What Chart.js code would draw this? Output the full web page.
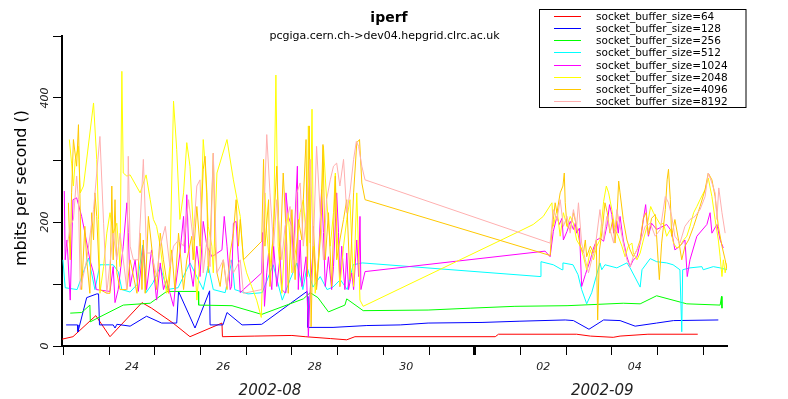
<!DOCTYPE html>
<html><head><meta charset="utf-8">
<script src="https://cdn.jsdelivr.net/npm/chart.js@4/dist/chart.umd.min.js"></script>
<style>html,body{margin:0;padding:0;background:#fff;}#wrap{width:788px;height:399px;}</style>
</head><body><div id="wrap"><canvas id="c" width="788" height="399"></canvas></div>
<script>
// x values: fractional day counted from 2002-08-01 (Sep 1 = 32)
const seriesLabels = ['socket_buffer_size=64','socket_buffer_size=128','socket_buffer_size=256','socket_buffer_size=512','socket_buffer_size=1024','socket_buffer_size=2048','socket_buffer_size=4096','socket_buffer_size=8192'];
const seriesColors = ['#ff0000','#0000ff','#00ff00','#00ffff','#ff00ff','#ffff00','#ffc800','#ffafaf'];

const t64 = [22.97,23.21,23.71,24.02,24.72,24.93,25.40,25.77,26.47,26.48,27.19,28.00,28.29,28.84,29.20,29.38,32.45,32.52,34.23,34.53,35.03,35.18,35.79,36.88];
const v64 = [11,15,49,15,70,61,37,15,37,15,16,17,15,12,10,15,15,19,19,16,14,16,19,19];

const t128 = [23.06,23.31,23.32,23.51,23.73,23.77,23.79,24.09,24.13,24.17,24.46,24.82,25.15,25.48,25.52,25.88,26.20,26.21,26.49,26.58,26.91,27.34,28.33,28.34,28.35,28.90,29.64,30.37,30.98,32.16,32.99,33.98,34.16,34.50,34.82,35.18,35.51,35.98,36.35,37.33];
const v128 = [34,34,23,78,84,84,34,34,29,35,32,48,37,37,88,29,89,34,34,54,34,35,88,80,30,30,33,34,37,38,40,42,41,27,42,41,32,37,41,42];

const t256 = [23.15,23.40,23.58,23.59,23.80,24.31,24.90,25.26,25.95,25.96,26.69,27.34,28.25,28.40,28.57,28.80,29.16,29.20,29.56,30.98,31.90,32.88,34.02,35.25,35.62,35.98,36.64,37.37,37.40,37.41];
const v256 = [53,54,66,39,47,66,69,88,88,66,65,51,76,86,78,55,66,76,57,58,61,64,65,69,68,81,68,66,80,61];

const t512 = [22.99,23.04,23.30,23.55,23.69,23.80,24.09,24.20,24.28,24.46,24.61,24.74,24.81,24.96,25.12,25.27,25.51,25.77,26.06,26.17,
  26.28,26.54,26.69,26.75,27.04,27.35,27.59,27.79,27.96,28.11,28.24,28.33,28.46,28.62,28.77,28.90,29.06,29.21,29.34,29.54,
  33.43,33.45,33.72,33.91,33.93,34.15,34.26,34.34,34.45,34.56,34.74,34.78,34.85,35.11,35.33,35.40,35.62,35.66,35.84,35.98,
  36.20,36.34,36.49,36.53,36.55,36.71,36.97,37.00,37.22,37.37,37.52];
const v512 = [139,94,91,142,91,131,131,120,91,87,99,163,86,102,128,91,94,134,91,129,
  91,86,139,91,84,86,131,74,107,134,91,128,95,112,91,95,107,91,131,134,
  112,136,131,123,134,131,115,91,68,86,134,123,131,126,134,126,95,123,141,136,
  134,131,123,23,123,126,128,123,128,126,123];

const t1024 = [23.02,23.04,23.08,23.15,23.21,23.29,23.40,23.47,23.58,23.66,
  23.72,24.02,24.09,24.13,24.20,24.31,24.39,24.42,24.46,24.57,
  24.64,24.75,24.82,24.93,25.04,25.12,25.19,25.26,25.33,25.41,
  25.44,25.55,25.63,25.66,25.70,25.74,25.77,25.84,25.92,25.99,
  26.06,26.14,26.25,26.47,26.52,26.58,26.65,26.68,26.72,26.78,
  26.83,26.87,26.94,27.34,27.36,27.40,27.45,27.49,27.52,27.56,
  27.60,27.67,27.74,27.78,27.85,27.87,27.92,28.00,28.03,28.12,
  28.14,28.18,28.22,28.31,28.36,28.40,28.47,28.54,28.58,28.65,
  28.69,28.73,28.80,28.87,28.91,28.98,29.02,29.05,29.09,29.16,
  29.20,29.24,29.31,29.35,29.42,29.46,29.49,29.51,29.60,33.54,
  33.65,33.72,33.80,33.85,33.91,33.94,34.02,34.09,34.16,34.20,
  34.23,34.29,34.34,34.42,34.53,34.60,34.67,34.74,34.82,34.89,
  34.95,35.00,35.04,35.11,35.14,35.18,35.25,35.33,35.40,35.47,
  35.55,35.62,35.69,35.74,35.80,35.87,35.98,36.20,36.31,36.38,
  36.49,36.60,36.65,36.71,36.86,37.08,37.15,37.19,37.30,37.37,
  37.44];
const v1024 = [250,139,171,74,236,239,209,183,139,118,
  91,88,128,70,91,161,231,183,96,139,
  88,161,91,155,74,134,91,107,86,64,
  88,150,209,150,244,163,128,96,161,112,
  201,161,144,155,209,161,91,96,198,201,
  139,86,91,118,183,64,118,150,112,91,
  161,96,144,91,86,247,209,193,139,290,
  91,171,96,144,15,91,161,96,139,252,
  183,96,144,91,128,247,183,96,161,91,
  150,91,118,91,171,112,209,91,120,153,
  144,185,209,196,206,171,185,201,188,198,
  182,190,96,115,139,158,171,174,169,193,
  228,212,182,201,182,209,171,144,128,139,
  144,166,204,228,177,198,188,196,185,155,
  161,171,112,139,177,196,215,182,196,171,
  158];

const t2048 = [23.13,23.18,23.22,23.26,23.33,23.37,23.44,23.66,23.73,23.77,
  23.80,23.88,23.95,24.02,24.09,24.17,24.24,24.28,24.31,24.39,
  24.46,24.68,24.81,24.90,24.97,25.04,25.12,25.19,25.26,25.33,
  25.41,25.48,25.55,25.63,25.70,25.77,25.84,25.92,25.99,26.06,
  26.10,26.17,26.25,26.28,26.36,26.58,26.72,26.87,26.94,27.01,
  27.12,27.23,27.33,27.38,27.41,27.45,27.52,27.60,27.65,27.70,
  27.78,27.85,27.92,28.00,28.11,28.18,28.25,28.33,28.36,28.40,
  28.44,28.47,28.51,28.58,28.65,28.69,28.76,28.84,28.91,28.95,
  28.98,29.05,29.13,29.20,29.27,29.35,29.42,29.49,29.56,32.95,
  33.28,33.50,33.69,33.72,33.80,33.87,33.94,34.02,34.09,34.16,
  34.23,34.31,34.38,34.45,34.53,34.60,34.67,34.74,34.82,34.88,
  34.93,35.00,35.07,35.14,35.22,35.29,35.36,35.44,35.47,35.55,
  35.62,35.69,35.77,35.85,35.91,35.98,36.06,36.13,36.20,36.28,
  36.35,36.42,36.49,36.57,36.64,36.71,36.79,36.86,36.93,37.04,
  37.11,37.19,37.26,37.33,37.37,37.41,37.44,37.48,37.52];
const v2048 = [333,295,258,301,322,247,258,392,301,204,
  85,128,182,215,182,198,128,443,279,274,
  276,247,276,236,204,193,161,118,85,128,
  395,317,204,247,328,290,193,74,139,333,
  295,193,161,118,279,333,268,209,139,118,
  96,74,46,171,247,182,128,182,437,161,
  85,171,215,118,166,215,236,161,355,166,
  382,166,85,139,215,322,236,161,215,279,
  193,96,161,204,236,96,247,74,64,184,
  196,209,231,193,220,177,215,193,209,198,
  171,161,144,123,155,139,161,171,233,258,
  247,220,188,177,161,144,161,166,150,139,
  150,171,193,225,215,206,196,198,177,188,
  166,158,161,171,177,193,215,225,236,252,
  271,241,204,171,144,112,139,118,134];

const t4096 = [23.11,23.15,23.18,23.22,23.29,23.33,23.37,23.40,23.47,23.51,
  23.58,23.62,23.66,23.69,23.73,23.80,23.95,24.02,24.06,24.09,
  24.13,24.17,24.24,24.39,24.46,24.61,24.68,24.72,24.75,24.79,
  24.86,24.97,25.04,25.12,25.19,25.30,25.37,25.44,25.52,25.63,
  25.70,25.81,25.84,25.92,25.99,26.06,26.10,26.14,26.17,26.21,
  26.28,26.32,26.36,26.43,26.50,26.58,26.65,26.72,26.78,26.83,
  26.87,26.94,27.34,27.38,27.41,27.49,27.52,27.60,27.67,27.74,
  27.81,27.89,27.92,28.00,28.07,28.14,28.22,28.25,28.31,28.34,
  28.38,28.42,28.47,28.54,28.62,28.68,28.73,28.80,28.87,28.95,
  28.98,29.05,29.13,29.20,29.27,29.35,29.42,29.48,29.53,29.60,
  33.65,33.69,33.72,33.76,33.80,33.87,33.93,33.96,33.98,34.02,
  34.09,34.16,34.23,34.31,34.38,34.42,34.45,34.53,34.60,34.66,
  34.69,34.73,34.80,34.85,34.90,34.96,35.02,35.07,35.11,35.15,
  35.18,35.25,35.33,35.40,35.47,35.55,35.62,35.69,35.75,35.80,
  35.87,35.95,36.04,36.09,36.17,36.21,36.24,36.28,36.31,36.38,
  36.46,36.53,36.60,36.68,36.79,36.93,37.04,37.11,37.19,37.26,
  37.33,37.41,37.48,37.52];
const v4096 = [231,139,247,333,290,357,215,91,193,139,
  85,215,171,247,209,91,85,85,258,139,
  236,118,91,91,139,85,182,91,171,85,
  209,134,91,182,139,85,155,91,182,91,
  139,177,139,225,161,285,306,247,118,161,
  311,161,118,96,139,91,150,182,236,161,
  204,139,169,301,161,236,96,193,290,139,
  279,161,85,220,107,204,171,236,333,112,
  355,31,193,91,171,325,139,215,96,274,
  139,171,204,236,107,247,328,333,263,236,
  146,188,204,231,215,247,258,279,231,193,
  188,215,193,161,150,171,144,161,150,171,
  42,155,193,231,215,182,204,166,204,266,
  247,204,171,155,144,155,171,206,215,179,
  206,212,107,166,220,268,285,236,177,204,
  171,139,161,171,193,225,252,279,268,241,
  193,161,139,123];

const t8192 = [23.07,23.15,23.22,23.29,23.33,23.37,23.51,23.66,23.80,23.88,
  23.95,24.09,24.17,24.24,24.39,24.42,24.46,24.53,24.64,24.75,
  24.82,24.93,25.04,25.12,25.23,25.33,25.41,25.52,25.63,25.74,
  25.84,25.92,25.99,26.06,26.14,26.21,26.28,26.36,26.43,26.50,
  26.58,26.65,26.72,26.87,26.94,27.34,27.41,27.45,27.52,27.60,
  27.67,27.78,27.85,27.96,28.03,28.11,28.18,28.25,28.33,28.40,
  28.47,28.54,28.62,28.69,28.76,28.84,28.91,28.98,29.05,29.13,
  29.20,29.27,29.35,29.41,29.46,29.53,29.60,33.65,33.72,33.80,
  33.87,33.94,34.02,34.09,34.16,34.23,34.27,34.34,34.42,34.49,
  34.56,34.63,34.74,34.82,34.89,34.96,35.04,35.11,35.18,35.25,
  35.33,35.40,35.47,35.55,35.62,35.73,35.84,35.95,36.06,36.17,
  36.24,36.31,36.38,36.49,36.60,36.71,36.82,36.93,37.04,37.11,
  37.19,37.26,37.30,37.34,37.41,37.48];
const v8192 = [155,193,204,274,236,91,139,220,338,198,
  85,182,139,182,91,306,161,139,139,301,
  150,150,112,161,193,128,161,171,161,236,
  171,258,268,118,171,128,311,118,128,139,
  96,139,118,139,85,91,258,341,247,161,
  236,139,193,225,118,247,263,161,225,301,
  161,322,215,139,236,268,290,295,258,301,
  215,247,301,330,322,290,268,166,220,204,
  236,193,209,182,220,193,231,166,139,118,
  139,155,220,171,209,188,166,220,193,166,
  139,128,144,155,166,193,198,177,188,241,
  231,209,177,166,193,204,209,220,241,279,
  263,247,204,255,215,182];

const seriesT = [t64,t128,t256,t512,t1024,t2048,t4096,t8192];
const seriesV = [v64,v128,v256,v512,v1024,v2048,v4096,v8192];

const xMin = 22.97, xMax = 37.52;
const dayTickValues = [23,24,25,26,27,28,29,30,31,32,33,34,35,36,37];
const monthStartTick = 32;
const dayLabelValues = [24.5,26.5,28.5,30.5,33.5,35.5];
const dayLabelTexts = ['24','26','28','30','02','04'];
const monthLabelValues = [27.52,34.79];
const monthLabelTexts = ['2002-08','2002-09'];
const yTickValues = [0,100,200,300,400,500];
const yLabelValues = [0,200,400];
const titleText = 'iperf';
const subtitleText = 'pcgiga.cern.ch->dev04.hepgrid.clrc.ac.uk';
const yTitleText = 'mbits per second ()';

const FONT = '"DejaVu Sans", "Liberation Sans", sans-serif';

const datasets = seriesLabels.map((lab, i) => ({
  label: lab,
  data: seriesT[i].map((t, j) => ({x: t, y: seriesV[i][j]})),
  borderColor: seriesColors[i],
  backgroundColor: seriesColors[i],
  borderWidth: 1,
  pointRadius: 0,
  tension: 0,
  fill: false,
  order: 7 - i
}));

const decor = {
  id: 'decor',
  afterDraw(chart) {
    const ctx = chart.ctx;
    ctx.save();
    ctx.fillStyle = '#000';
    ctx.textAlign = 'center';
    ctx.textBaseline = 'middle';
    ctx.font = 'bold 14px ' + FONT;
    ctx.fillText(titleText, 389, 18);
    ctx.font = '11px ' + FONT;
    ctx.fillText(subtitleText, 384.5, 36.5);
    ctx.save();
    ctx.translate(22, 188);
    ctx.rotate(-Math.PI / 2);
    ctx.font = '16px ' + FONT;
    ctx.fillText(yTitleText, 0, 0);
    ctx.restore();
    // legend
    ctx.fillStyle = '#fff';
    ctx.fillRect(539.5, 9.5, 206.5, 98);
    ctx.strokeStyle = '#000';
    ctx.lineWidth = 1;
    ctx.strokeRect(539.5, 9.5, 206.5, 98);
    chart.data.datasets.forEach((ds, i) => {
      const y = Math.round(16 + i * 12.14);
      ctx.strokeStyle = ds.borderColor;
      ctx.beginPath();
      ctx.moveTo(554, y + 0.5);
      ctx.lineTo(581, y + 0.5);
      ctx.stroke();
      ctx.fillStyle = '#000';
      ctx.textAlign = 'left';
      ctx.font = '10.5px ' + FONT;
      ctx.fillText(ds.label, 596, y + 1);
    });
    ctx.restore();
  }
};

new Chart(document.getElementById('c'), {
  type: 'line',
  data: { datasets },
  plugins: [decor],
  options: {
    responsive: false,
    animation: false,
    devicePixelRatio: 1,
    layout: { padding: { top: 36, right: 61, left: 0, bottom: 0 } },
    plugins: { legend: { display: false }, title: { display: false }, tooltip: { enabled: false } },
    scales: {
      x: {
        type: 'linear', position: 'bottom', min: xMin, max: xMax, weight: 0,
        afterBuildTicks: s => { s.ticks = dayTickValues.map(v => ({ value: v })); },
        afterFit: s => { s.height = 10; },
        ticks: { display: false },
        grid: {
          drawOnChartArea: false, drawTicks: true, tickLength: 9, color: '#000',
          tickWidth: c => (c.tick && c.tick.value === monthStartTick) ? 3 : 1
        },
        border: { display: true, color: '#000', width: 2 }
      },
      xd: {
        type: 'linear', position: 'bottom', min: xMin, max: xMax, weight: 1,
        afterBuildTicks: s => { s.ticks = dayLabelValues.map(v => ({ value: v })); },
        afterFit: s => { s.height = 22; },
        ticks: {
          autoSkip: false, maxRotation: 0, minRotation: 0, padding: 5, color: '#222',
          font: { family: FONT, size: 11, style: 'italic' },
          callback: (v, i) => dayLabelTexts[i]
        },
        grid: { display: false, drawTicks: false },
        border: { display: false }
      },
      xm: {
        type: 'linear', position: 'bottom', min: xMin, max: xMax, weight: 2,
        afterBuildTicks: s => { s.ticks = monthLabelValues.map(v => ({ value: v })); },
        afterFit: s => { s.height = 21; },
        ticks: {
          autoSkip: false, maxRotation: 0, minRotation: 0, padding: 4, color: '#222',
          font: { family: FONT, size: 15, style: 'italic' },
          callback: (v, i) => monthLabelTexts[i]
        },
        grid: { display: false, drawTicks: false },
        border: { display: false }
      },
      y: {
        type: 'linear', position: 'left', min: 0, max: 500,
        afterBuildTicks: s => { s.ticks = yTickValues.map(v => ({ value: v })); },
        afterFit: s => { s.width = 62; },
        ticks: {
          minRotation: 90, maxRotation: 90, crossAlign: 'center', padding: -3, color: '#222',
          font: { family: FONT, size: 11, style: 'italic' },
          callback: v => yLabelValues.includes(v) ? String(v) : ''
        },
        grid: { drawOnChartArea: false, drawTicks: true, tickLength: 9, color: '#000' },
        border: { display: true, color: '#000', width: 2 }
      }
    }
  }
});
</script>
</body></html>
